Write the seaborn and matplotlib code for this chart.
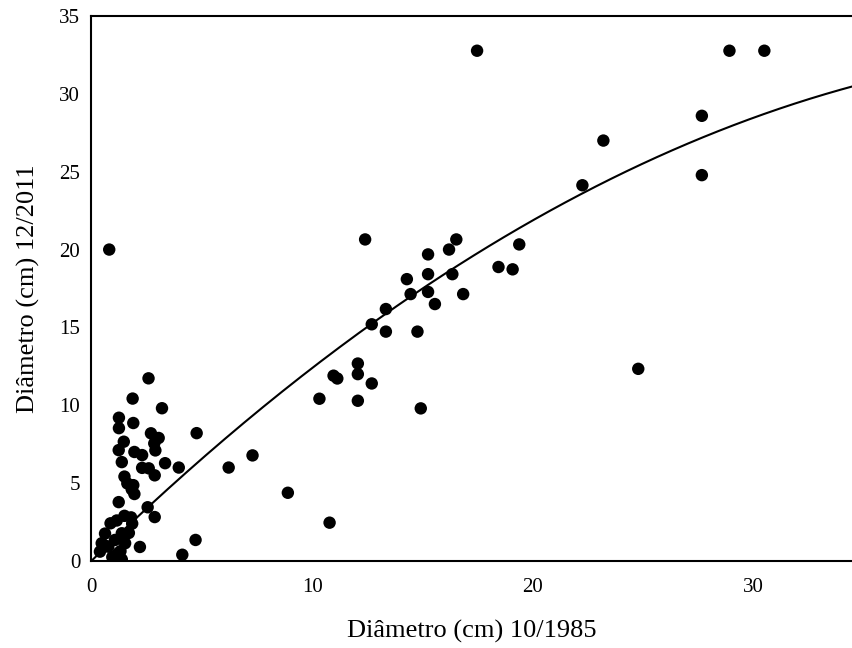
import numpy as np
import pandas as pd
import matplotlib
matplotlib.use("Agg")
import matplotlib.pyplot as plt
import seaborn as sns

# diameters (cm)
diam_1985 = [
    17.47, 28.9, 30.48, 27.65, 23.19, 22.24, 27.65, 0.81, 12.4, 16.53,
    16.2, 15.25, 19.38, 18.44, 19.08, 14.29, 15.25, 16.35, 14.46, 15.25,
    16.84, 15.56, 13.34, 12.7, 13.34, 14.77, 24.77, 12.07, 12.07, 10.97,
    11.14, 12.7, 10.33, 12.07, 14.92, 8.9, 10.79, 7.3, 6.22, 4.77,
    3.96, 4.72, 4.12,
    2.59, 1.87, 3.2, 1.25, 1.25, 1.9, 2.7, 3.05, 2.85, 2.9,
    1.47, 1.24, 1.95, 2.3, 1.38, 3.34, 2.3, 2.6, 2.87, 1.5,
    1.63, 1.9, 1.83, 1.95, 1.24, 2.55, 2.87, 2.2,
    1.8, 1.5, 1.15, 0.87, 0.62, 0.47, 0.39, 1.07, 1.22, 1.7,
    1.85, 1.38, 0.95, 0.77, 1.38, 1.53, 1.32, 0.66,
]
diam_2011 = [
    32.77, 32.77, 32.77, 28.59, 27.0, 24.13, 24.78, 20.0, 20.65, 20.65,
    20.0, 19.69, 20.33, 18.88, 18.73, 18.1, 18.42, 18.42, 17.14, 17.28,
    17.14, 16.5, 16.18, 15.2, 14.73, 14.73, 12.34, 12.68, 12.0, 11.9,
    11.72, 11.4, 10.42, 10.29, 9.8, 4.38, 2.46, 6.78, 6.0, 8.21,
    6.0, 1.35, 0.4,
    11.73, 10.43, 9.81, 9.2, 8.53, 8.86, 8.2, 7.9, 7.55, 7.1,
    7.66, 7.12, 7.0, 6.8, 6.35, 6.28, 5.98, 5.95, 5.5, 5.42,
    4.98, 4.87, 4.6, 4.3, 3.78, 3.45, 2.82, 0.9,
    2.8, 2.9, 2.6, 2.42, 1.76, 1.14, 0.6, 1.35, 0.5, 1.8,
    2.4, 0.1, 0.25, 0.92, 1.78, 1.14, 0.63, 0.96,
]

# second order trendline through the origin (coefficients)
trend_coef = [-0.0145, 1.384, 0.0]

x_ticks = [0, 10, 20, 30]
y_ticks = [0, 5, 10, 15, 20, 25, 30, 35]

df = pd.DataFrame({"d1985": diam_1985, "d2011": diam_2011})

sns.set_style("white")
plt.rcParams["font.family"] = ["Liberation Serif", "DejaVu Serif"]

fig = plt.figure(figsize=(8.52, 6.48), dpi=100)
ax = fig.add_axes([0.1072, 0.1343, 0.8928, 0.8410])

sns.scatterplot(data=df, x="d1985", y="d2011", color="black", s=80,
                edgecolor="none", ax=ax, zorder=3)

xmax = 34.45
xs = np.linspace(0, xmax, 200)
ax.plot(xs, np.polyval(trend_coef, xs), color="black", lw=1.5, zorder=2)

ax.set_xlim(0, xmax)
ax.set_ylim(0, 35)
ax.set_xticks(x_ticks)
ax.set_yticks(y_ticks)
ax.tick_params(axis="x", direction="in", length=5, width=1.3,
               labelsize=15, pad=12, colors="black")
ax.tick_params(axis="y", length=0, labelsize=15, pad=8, colors="black")

for side in ["left", "bottom", "top"]:
    ax.spines[side].set_color("black")
    ax.spines[side].set_linewidth(1.5)
ax.spines["right"].set_visible(False)

ax.set_xlabel("Diâmetro (cm) 10/1985", fontsize=19, labelpad=17, color="black")
ax.set_ylabel("Diâmetro (cm) 12/2011", fontsize=19, labelpad=14, color="black")

fig.savefig("out.png", dpi=100)
